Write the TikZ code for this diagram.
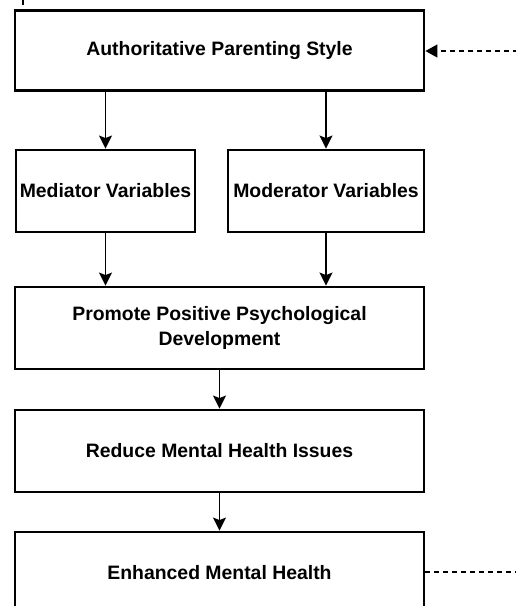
\documentclass[tikz,border=0pt]{standalone}
\usepackage{fontspec}
\setmainfont{Liberation Sans}
\usetikzlibrary{arrows.meta}

\tikzset{
  stagebox/.style={draw, line width=2.9, rectangle, align=center, inner sep=0pt,
    font=\fontsize{19.4}{25.5}\selectfont\bfseries},
  flowline/.style={line width=1.4, -{Stealth[length=13, width=13, inset=2.5]}},
  feedback/.style={line width=1.4, dash pattern=on 5 off 4}
}

\begin{document}
\begin{tikzpicture}[x=1pt,y=1pt,yscale=-1,xscale=1]
    \clip (0,0) rectangle (516,606);

    % Text Node
    \node [stagebox, minimum width=409, minimum height=80] (style) at (219.5,50.5) {Authoritative Parenting Style};
    % Text Node
    \node [stagebox, minimum width=179, minimum height=82] (mediator) at (105.5,191) {Mediator Variables};
    % Text Node
    \node [stagebox, minimum width=196, minimum height=82] (moderator) at (326,191) {Moderator Variables};
    % Text Node
    \node [stagebox, minimum width=409, minimum height=82] (promote) at (219.5,328) {Promote Positive Psychological\\Development};
    % Text Node
    \node [stagebox, minimum width=409, minimum height=82] (reduce) at (219.5,451) {Reduce Mental Health Issues};
    % Text Node
    \node [stagebox, minimum width=409, minimum height=82] (enhanced) at (219.5,573) {Enhanced Mental Health};

    %Straight Lines
    \coordinate (stub top) at (23,-2);
    \coordinate (stub end) at (23,5);
    \draw [line width=1.6] (stub top) -- (stub end);

    %Straight Lines
    \draw [flowline] (style.south -| mediator) -- (mediator.north);
    \draw [flowline] (style.south -| moderator) -- (moderator.north);
    %Straight Lines
    \draw [flowline] (mediator.south) -- (promote.north -| mediator);
    \draw [flowline] (moderator.south) -- (promote.north -| moderator);
    %Straight Lines
    \draw [flowline] (promote.south) -- (reduce.north);
    \draw [flowline] (reduce.south) -- (enhanced.north);

    %Dashed Lines
    \coordinate (loop in) at (518,51);
    \coordinate (loop out) at (518,572);
    \draw [feedback, -{Triangle[length=12, width=13]}] (loop in) -- (loop in -| style.east);
    \draw [feedback] (enhanced.east |- loop out) -- (loop out);

\end{tikzpicture}
\end{document}
